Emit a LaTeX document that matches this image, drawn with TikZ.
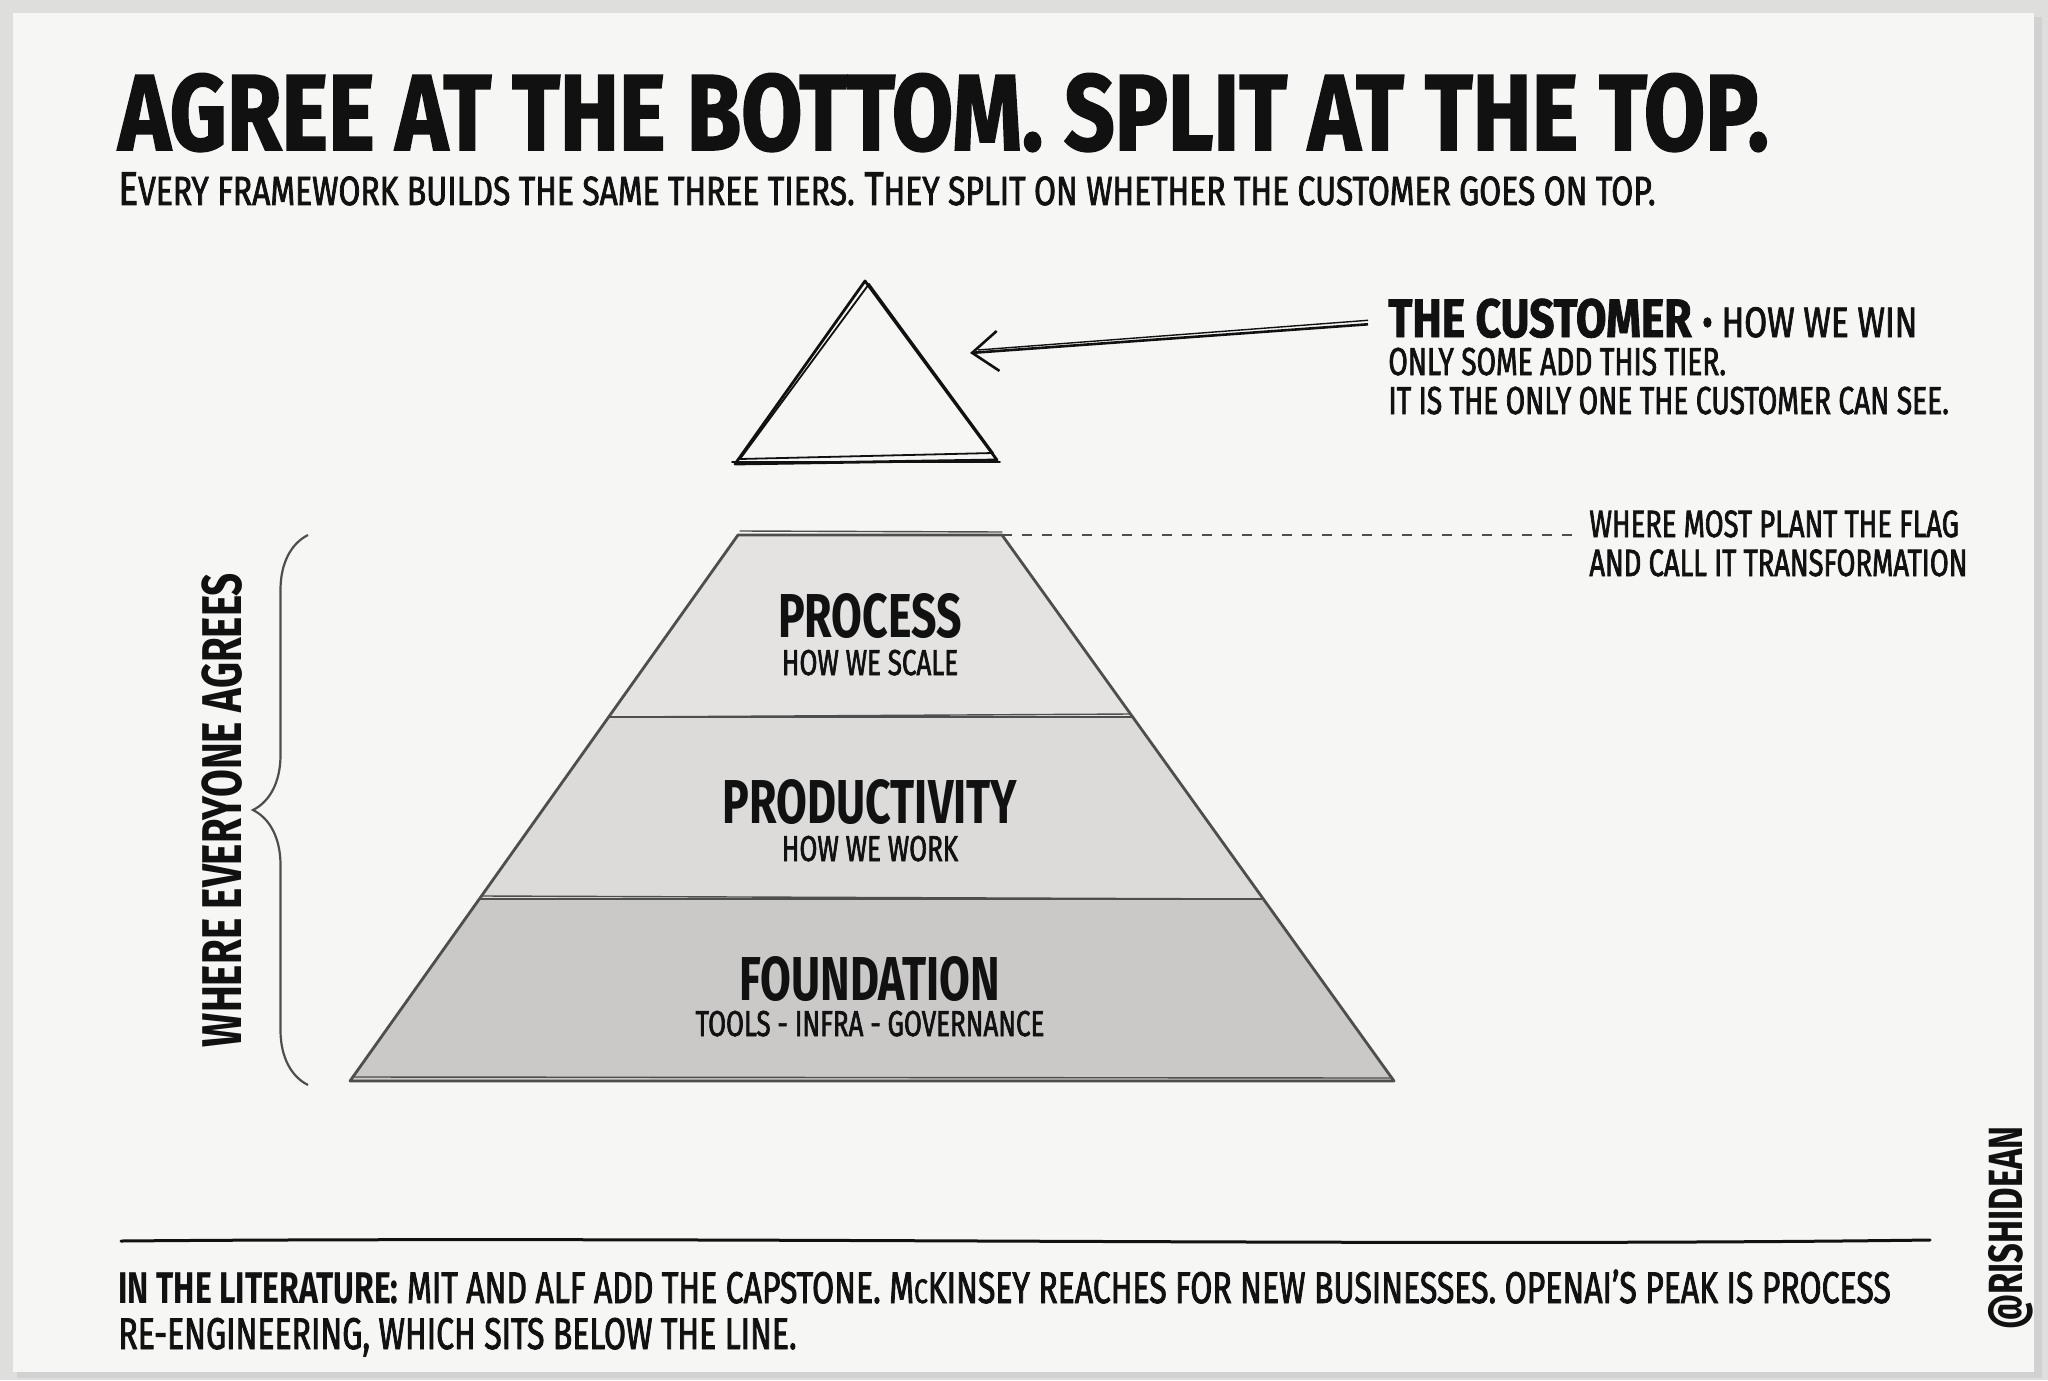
\documentclass[tikz,border=0pt]{standalone}
\usepackage{fontspec}
\setmainfont{Fira Sans}[FakeStretch=0.72,UprightFeatures={FakeBold=1.8}]
\newfontfamily\headfont{Fira Sans}[FakeStretch=0.82,BoldFeatures={FakeBold=1.5}]
\newfontfamily\leadfont{Fira Sans}[FakeStretch=0.78,UprightFeatures={FakeBold=1.8}]
\usepackage{tikz}
\usetikzlibrary{calc}
\usetikzlibrary{arrows.meta}
\usetikzlibrary{decorations.pathreplacing}

\definecolor{desk}{HTML}{DEDEDC}
\definecolor{paper}{HTML}{F6F6F4}
\definecolor{ink}{HTML}{111111}
\definecolor{pencil}{HTML}{4E4E4E}
\definecolor{tierA}{HTML}{E4E3E2}
\definecolor{tierB}{HTML}{DCDBDA}
\definecolor{tierC}{HTML}{CBC9C8}

\newcommand{\smc}[1]{{\fontsize{20.4}{20}\selectfont #1}}

\begin{document}
\begin{tikzpicture}[x=0.5pt,y=-0.5pt,>={Straight Barb[length=13pt,width=20pt]},
  every node/.style={inner sep=0pt,text=ink},
  sketch/.style={draw=pencil,line width=1.4pt,line join=round,line cap=round},
  tiername/.style={anchor=base,font=\fontsize{31}{31}\selectfont\bfseries},
  tiernote/.style={anchor=base,font=\fontsize{18}{18}\selectfont},
  note/.style={anchor=base west,font=\fontsize{19.5}{20}\selectfont}]

 % sheet of paper
 \fill[desk] (0,0) rectangle (2048,1380);
 \fill[black!18] (17,17) rectangle (2042,1378);
 \fill[paper] (13,13) rectangle (2034,1372);
 \useasboundingbox (0,0) rectangle (2048,1380);

 % heading
 \node (title) [anchor=base west,font=\headfont\fontsize{54}{54}\selectfont\bfseries] at (118,150)
   {AGREE AT THE BOTTOM. SPLIT AT THE TOP.};
 \node (subtitle) [anchor=base west,font=\leadfont\fontsize{23.7}{24}\selectfont] at (118,205)
   {E\smc{VERY FRAMEWORK BUILDS THE SAME THREE TIERS.} T\smc{HEY SPLIT ON WHETHER THE CUSTOMER GOES ON TOP.}};

 % capstone
 \coordinate (apex) at (865,281);
 \coordinate (capL) at (735,464);
 \coordinate (capR) at (997,460);
 \draw[sketch,draw=ink] (apex) -- (capL) -- (capR) -- cycle;
 \draw[sketch,draw=ink,line width=0.9pt] ([shift={(4,3)}]apex) -- ([shift={(5,-5)}]capL) -- ([shift={(-4,-7)}]capR) -- cycle;
 \draw[sketch,draw=ink,line width=0.9pt] ([shift={(-3,-2)}]capL) -- ([shift={(3,2)}]capR);

 \node (cust) [anchor=base west,font=\headfont\fontsize{27}{28}\selectfont\bfseries] at (1388,337)
   {THE CUSTOMER {\leadfont\mdseries\fontsize{21.3}{21}\selectfont\textbullet\ HOW WE WIN}};
 \node (only) [note] at (1388,375) {ONLY SOME ADD THIS TIER.};
 \node (see) [note] at (1388,414) {IT IS THE ONLY ONE THE CUSTOMER CAN SEE.};
 \coordinate (aim) at (970,353);
 \draw[->,ink,line width=1.3pt] ([xshift=-10pt,yshift=-3pt]cust.west) -- (aim);
 \draw[ink,line width=0.7pt] ([xshift=-10pt,yshift=-1pt]cust.west) -- ([shift={(8,-3)}]aim);

 % pyramid
 \coordinate (tl) at (738,535);
 \coordinate (tr) at (1002,535);
 \coordinate (bl) at (350,1081);
 \coordinate (br) at (1394,1081);
 \coordinate (l1) at ($(tl)!1/3!(bl)$);
 \coordinate (r1) at ($(tr)!1/3!(br)$);
 \coordinate (l2) at ($(tl)!2/3!(bl)$);
 \coordinate (r2) at ($(tr)!2/3!(br)$);
 \fill[tierA] (tl) -- (tr) -- (r1) -- (l1) -- cycle;
 \fill[tierB] (l1) -- (r1) -- (r2) -- (l2) -- cycle;
 \fill[tierC] (l2) -- (r2) -- (br) -- (bl) -- cycle;
 \draw[sketch] (tl) -- (tr) -- (br) -- (bl) -- cycle;
 \draw[sketch] (l1) -- (r1) (l2) -- (r2);
 \draw[sketch,line width=0.7pt] ([shift={(2,-4)}]tl) -- ([shift={(0,-3)}]tr) ([shift={(3,0)}]l1) -- ([shift={(-2,-3)}]r1)
   ([shift={(2,-3)}]l2) -- ([shift={(-3,0)}]r2) ([shift={(4,-4)}]bl) -- ([shift={(-4,-3)}]br);

 \node (process) [tiername] at (870,637) {PROCESS};
 \node (scale) [tiernote] at (870,675) {HOW WE SCALE};
 \node (product) [tiername] at (870,823) {PRODUCTIVITY};
 \node (work) [tiernote] at (870,861) {HOW WE WORK};
 \node (found) [tiername] at (870,1000) {FOUNDATION};
 \node (tools) [tiernote] at (870,1036) {TOOLS - INFRA - GOVERNANCE};

 % flag line
 \node (flag) [anchor=base west,font=\fontsize{19}{19}\selectfont] at (1589,537) {WHERE MOST PLANT THE FLAG};
 \node (transf) [anchor=base west,font=\fontsize{19}{19}\selectfont] at (1589,576) {AND CALL IT TRANSFORMATION};
 \coordinate (flagend) at (1574,535);
 \draw[pencil,line width=1.1pt,dash pattern=on 5pt off 5pt] (tr) -- (flagend);

 % brace
 \coordinate (braceB) at (308,1085);
 \coordinate (braceT) at (308,535);
 \draw[pencil,line width=1.1pt,decorate,decoration={brace,amplitude=27.5pt}] (braceB) -- (braceT);
 \node (agree) [rotate=90,font=\fontsize{28}{28}\selectfont\bfseries] at (222,810) {WHERE EVERYONE AGREES};

 % footer
 \draw[ink,line width=1.5pt,line cap=round] (121,1241) .. controls (700,1236) and (1400,1247) .. (1930,1240);
 \node (lit) [anchor=base west,font=\fontsize{22.2}{22}\selectfont] at (118,1303)
   {{\bfseries IN THE LITERATURE:} MIT AND ALF ADD THE CAPSTONE. M{\fontsize{17}{17}\selectfont C}KINSEY REACHES FOR NEW BUSINESSES. OPENAI’S PEAK IS PROCESS};
 \node (lit2) [anchor=base west,font=\fontsize{22.2}{22}\selectfont] at (118,1349)
   {RE-ENGINEERING, WHICH SITS BELOW THE LINE.};
 \node (handle) [rotate=90,font=\fontsize{24}{24}\selectfont\bfseries] at (2011,1228) {@RISHIDEAN};
\end{tikzpicture}
\end{document}
